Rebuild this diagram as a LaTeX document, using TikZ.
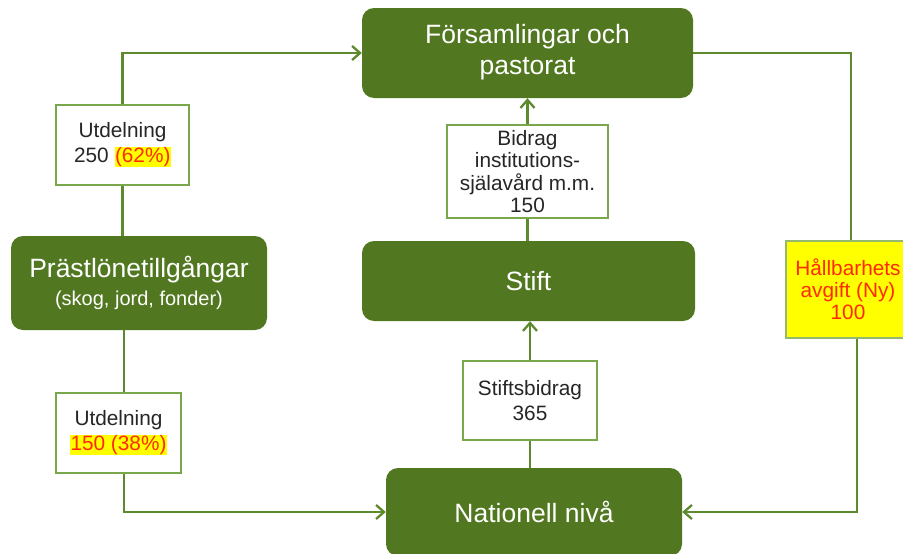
\documentclass[tikz,border=0pt]{standalone}
\usepackage{fontspec}
\setmainfont{Liberation Sans}
\usetikzlibrary{arrows.meta}
\definecolor{dkgreen}{HTML}{517820}
\definecolor{lngreen}{HTML}{5E8A2E}
\definecolor{bxgreen}{HTML}{7AA64C}
\definecolor{hlred}{HTML}{FF2A00}
\definecolor{hlyellow}{HTML}{FFFF00}
\newcommand{\hl}[1]{{\setlength{\fboxsep}{0.5pt}\colorbox{hlyellow}{\textcolor{hlred}{#1}}}}
\begin{document}
\begin{tikzpicture}[x=1pt,y=-1pt,
 big/.style={draw=none, fill=dkgreen, rounded corners=12pt, text=white, align=center, inner sep=0pt, font=\fontsize{26.5}{31}\selectfont},
 lbl/.style={draw=bxgreen, line width=1.3pt, fill=white, align=center, inner sep=0pt, font=\fontsize{20.8}{25}\selectfont, text=black!85},
 flow/.style={draw=lngreen, line width=2.3pt},
 arr/.style={flow, -{Straight Barb[length=8pt,width=14pt]}}]
\useasboundingbox (0,0) rectangle (903,554);
\fill[white] (0,0) rectangle (903,554);

\node[big, minimum width=331pt, minimum height=90pt] (f) at (527.5,53) {\raisebox{-4pt}{\begin{tabular}{@{}c@{}}Församlingar och\\pastorat\end{tabular}}};
\node[big, minimum width=333pt, minimum height=80pt] (s) at (528.5,281) {Stift};
\node[big, minimum width=296pt, minimum height=88pt] (n) at (534,512) {Nationell nivå};
\node[big, minimum width=256pt, minimum height=94pt] (p) at (139,283) {Prästlönetillgångar\\[-3pt]{\fontsize{20}{24}\selectfont(skog, jord, fonder)}};

\node[lbl, minimum width=133pt, minimum height=80pt] (u1) at (122.5,145) {Utdelning\\250 \hl{(62\%)}};
\node[lbl, minimum width=125pt, minimum height=80pt] (u2) at (118.5,433) {Utdelning\\\hl{150 (38\%)}};
\node[lbl, font=\fontsize{20.8}{22.5}\selectfont, minimum width=161pt, minimum height=93pt] (b) at (527.5,171.5) {Bidrag\\institutions-\\själavård m.m.\\150};
\node[lbl, minimum width=134pt, minimum height=79pt] (sb) at (530,400.5) {Stiftsbidrag\\365};
\node[lbl, font=\fontsize{20.8}{22}\selectfont, draw=bxgreen!80, fill=hlyellow, text=hlred, minimum width=124pt, minimum height=97pt] (h) at (848,289.5) {Hållbarhets\\avgift (Ny)\\100};

% left side
\draw[arr] (u1.north) |- (f.west);
\draw[flow] (u1.south) -- (u1.south |- p.north);
\draw[flow] ([xshift=5.5pt]u2.north) -- ([xshift=5.5pt]u2.north |- p.south);
\draw[arr] ([xshift=5.5pt]u2.south) |- (n.west);

% middle
\draw[arr] (b.north) -- (b.north |- f.south);
\draw[flow] (s.north -| b) -- (b.south);
\draw[flow] (n.north -| sb) -- (sb.south);
\draw[arr] (sb.north) -- (sb.north |- s.south);

% right side
\draw[flow] (f.east) -| ([xshift=3pt]h.north);
\draw[arr] ([xshift=9pt]h.south) |- (n.east);
\end{tikzpicture}
\end{document}
